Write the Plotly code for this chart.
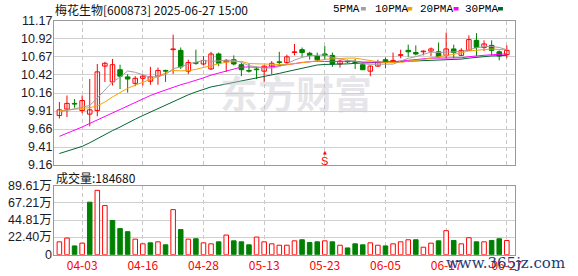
import plotly.graph_objects as go

W, H = 578, 276

# ---------------- data ----------------
dates = ["03-31", "04-01", "04-02", "04-03", "04-07", "04-08", "04-09", "04-10", "04-11", "04-14",
         "04-15", "04-16", "04-17", "04-18", "04-21", "04-22", "04-23", "04-24", "04-25", "04-28",
         "04-29", "04-30", "05-06", "05-07", "05-08", "05-09", "05-12", "05-13", "05-14", "05-15",
         "05-16", "05-19", "05-20", "05-21", "05-22", "05-23", "05-26", "05-27", "05-28", "05-29",
         "05-30", "06-03", "06-04", "06-05", "06-06", "06-09", "06-10", "06-11", "06-12", "06-13",
         "06-16", "06-17", "06-18", "06-19", "06-20", "06-23", "06-24", "06-25", "06-26", "06-27"]
opens = [9.85, 9.94, 10.02, 9.92, 9.87, 9.92, 10.54, 10.32, 10.49, 10.39,
         10.30, 10.37, 10.33, 10.40, 10.48, 10.77, 10.76, 10.47, 10.59, 10.57,
         10.50, 10.71, 10.60, 10.63, 10.56, 10.48, 10.50, 10.47, 10.54, 10.60,
         10.59, 10.73, 10.77, 10.72, 10.68, 10.71, 10.69, 10.57, 10.61, 10.60,
         10.56, 10.47, 10.54, 10.63, 10.60, 10.69, 10.76, 10.73, 10.74, 10.75,
         10.74, 10.69, 10.78, 10.69, 10.76, 10.90, 10.80, 10.83, 10.74, 10.70]
highs = [10.04, 10.13, 10.08, 10.13, 10.36, 10.57, 10.60, 10.64, 10.56, 10.43,
         10.40, 10.43, 10.53, 10.52, 10.49, 10.98, 10.80, 10.63, 10.77, 10.68,
         10.74, 10.73, 10.64, 10.69, 10.59, 10.57, 10.53, 10.55, 10.61, 10.74,
         10.70, 10.85, 10.80, 10.74, 10.73, 10.82, 10.73, 10.63, 10.63, 10.64,
         10.59, 10.55, 10.63, 10.66, 10.73, 10.77, 10.84, 10.83, 10.76, 10.80,
         10.87, 11.01, 10.84, 10.79, 10.97, 11.00, 10.90, 10.90, 10.76, 10.83]
lows = [9.81, 9.83, 9.96, 9.88, 9.70, 9.84, 10.32, 10.27, 10.22, 10.17,
        10.26, 10.27, 10.28, 10.28, 10.32, 10.43, 10.50, 10.43, 10.56, 10.55,
        10.49, 10.54, 10.46, 10.55, 10.40, 10.45, 10.36, 10.32, 10.43, 10.56,
        10.58, 10.69, 10.67, 10.63, 10.60, 10.63, 10.53, 10.52, 10.58, 10.50,
        10.49, 10.40, 10.53, 10.51, 10.59, 10.65, 10.67, 10.69, 10.69, 10.68,
        10.66, 10.65, 10.65, 10.68, 10.76, 10.68, 10.75, 10.69, 10.62, 10.65]
closes = [9.93, 10.02, 10.01, 10.06, 9.93, 10.46, 10.58, 10.56, 10.40, 10.36,
          10.37, 10.40, 10.39, 10.48, 10.47, 10.78, 10.53, 10.59, 10.58, 10.62,
          10.71, 10.58, 10.62, 10.57, 10.49, 10.47, 10.49, 10.54, 10.58, 10.59,
          10.67, 10.74, 10.73, 10.69, 10.63, 10.69, 10.57, 10.61, 10.60, 10.59,
          10.49, 10.54, 10.60, 10.59, 10.62, 10.70, 10.74, 10.71, 10.75, 10.78,
          10.67, 10.78, 10.73, 10.76, 10.91, 10.80, 10.85, 10.76, 10.68, 10.76]
volumes = [167000, 216000, 114000, 150000, 682000, 836000, 638000, 444000, 339000, 299000,
           202000, 141000, 154000, 167000, 128000, 585000, 326000, 202000, 207000, 154000,
           141000, 167000, 255000, 180000, 167000, 128000, 229000, 167000, 141000, 123000,
           123000, 180000, 194000, 158000, 167000, 180000, 167000, 123000, 88000, 141000,
           128000, 154000, 123000, 114000, 141000, 167000, 194000, 194000, 97000, 150000,
           180000, 312000, 185000, 141000, 220000, 167000, 167000, 185000, 207000, 184680]
prev_close = 9.85  # close of the session before the first bar

ma5_head = [9.90, 9.92, 9.94, 9.96]
ma10_head = [9.915, 9.925, 9.935, 9.945, 9.96, 9.985, 10.04, 10.11, 10.17]
ma20_head = [9.56, 9.60, 9.65, 9.69, 9.74, 9.79, 9.84, 9.89, 9.94, 9.99,
             10.04, 10.08, 10.13, 10.17, 10.21, 10.25, 10.28, 10.31, 10.34]
ma30_head = [9.32, 9.35, 9.38, 9.42, 9.47, 9.53, 9.59, 9.64, 9.69, 9.75,
             9.80, 9.85, 9.90, 9.95, 10.00, 10.05, 10.10, 10.14, 10.18, 10.22,
             10.25, 10.27, 10.29, 10.31, 10.33, 10.35, 10.37, 10.39, 10.42]

price_tick_labels = ["11.17", "10.92", "10.67", "10.42", "10.16", "9.91", "9.66", "9.41", "9.16"]
vol_tick_labels = ["89.61万", "67.21万", "44.81万", "22.40万", "0"]
vol_tick_values = [896100, 672100, 448100, 224000, 0]
date_labels = ["04-03", "04-16", "04-28", "05-13", "05-23", "06-05", "06-17", "06-27"]
title_text = "梅花生物[600873] 2025-06-27 15:00"
vol_title_text = "成交量:184680"
ma_names = ["5PMA", "10PMA", "20PMA", "30PMA"]
signal_date = "05-23"
signal_text = "S"
watermark_text = "东方财富"
site_text = "www.365jz.com"

# ---------------- styles ----------------
RED = "#ff0000"
GREEN = "#008000"
MA_COLORS = ["#a0a0a0", "#f5a300", "#ff00ff", "#006633"]
GRID = "#d0d0d0"
FRAME = "#999999"
CJK = "Noto Sans CJK SC"
NUM = "Liberation Sans"

N = len(closes)
idx = list(range(N))


def moving_avg(head, n):
    out = list(head)
    for i in range(len(head), N):
        out.append(sum(closes[i - n + 1:i + 1]) / n)
    return out


mas = [moving_avg(ma5_head, 5), moving_avg(ma10_head, 10),
       moving_avg(ma20_head, 20), moving_avg(ma30_head, 30)]

up = [c >= o for o, c in zip(opens, closes)]
prevs = [prev_close] + closes[:-1]
vol_up = [c >= p for c, p in zip(closes, prevs)]


def px_x(x):
    return x / W


def px_y(y):
    return 1 - y / H


X0, X1 = 55, 522
P_TOP, P_BOT = 21, 165
V_TOP, V_BOT = 185.7, 254.7

fig = go.Figure()

# wicks
for flag, col in ((True, RED), (False, GREEN)):
    xs, ys = [], []
    for i in idx:
        if up[i] == flag:
            xs += [i, i, None]
            ys += [lows[i], highs[i], None]
    fig.add_trace(go.Scatter(x=xs, y=ys, mode="lines", line=dict(color=col, width=1),
                             hoverinfo="skip", xaxis="x", yaxis="y"))

# bodies
body_base = [min(o, c) for o, c in zip(opens, closes)]
body_h = [max(abs(c - o), 0.004) for o, c in zip(opens, closes)]
fig.add_trace(go.Bar(x=idx, y=body_h, base=body_base, width=0.6,
                     marker=dict(color=["white" if u else GREEN for u in up],
                                 line=dict(color=[RED if u else GREEN for u in up], width=1)),
                     xaxis="x", yaxis="y"))

# moving averages (longest first so the short ones sit on top)
for vals, col in zip(mas[::-1], MA_COLORS[::-1]):
    fig.add_trace(go.Scatter(x=idx, y=vals, mode="lines", line=dict(color=col, width=1),
                             hoverinfo="skip", xaxis="x", yaxis="y"))

# volume
fig.add_trace(go.Bar(x=idx, y=volumes, width=0.6,
                     marker=dict(color=["white" if u else GREEN for u in vol_up],
                                 line=dict(color=[RED if u else GREEN for u in vol_up], width=1)),
                     xaxis="x2", yaxis="y2"))

tick_idx = [dates.index(d) for d in date_labels]
xrange = [-0.68, N + 0.05]

common_x = dict(range=xrange, tickvals=tick_idx, showgrid=True, gridcolor="#c8c8c8",
                griddash="4px,3px", gridwidth=1, showline=True, mirror=True, linecolor=FRAME,
                linewidth=1, zeroline=False, ticks="", fixedrange=True)

fig.update_layout(
    width=W, height=H, margin=dict(l=0, r=0, t=0, b=0), autosize=False,
    paper_bgcolor="white", plot_bgcolor="white", showlegend=False, barmode="overlay",
    xaxis=dict(domain=[px_x(X0), px_x(X1)], anchor="y", showticklabels=False, **common_x),
    yaxis=dict(domain=[px_y(P_BOT), px_y(P_TOP)], anchor="x",
               range=[float(price_tick_labels[-1]), float(price_tick_labels[0])],
               tickvals=[float(s) for s in price_tick_labels], showticklabels=False,
               showgrid=True, gridcolor=GRID, showline=True, mirror=True, linecolor=FRAME,
               zeroline=False, ticks="", fixedrange=True),
    xaxis2=dict(domain=[px_x(X0), px_x(X1)], anchor="y2", showticklabels=True,
                ticktext=date_labels, tickfont=dict(color=RED, size=12, family=CJK), **common_x),
    yaxis2=dict(domain=[px_y(V_BOT), px_y(V_TOP)], anchor="x2",
                range=[0, vol_tick_values[0]], tickvals=vol_tick_values, showticklabels=False,
                showgrid=True, gridcolor=GRID, showline=True, mirror=True, linecolor=FRAME,
                zeroline=False, ticks="", fixedrange=True),
)

ann = []
for s in price_tick_labels:
    ann.append(dict(x=px_x(X0), xref="paper", xanchor="right", y=float(s), yref="y",
                    yanchor="middle", text=s, showarrow=False,
                    font=dict(family=NUM, size=12.5, color="#1a1a2a")))
for s, v in zip(vol_tick_labels, vol_tick_values):
    ann.append(dict(x=px_x(X0), xref="paper", xanchor="right", y=v, yref="y2",
                    yanchor="middle", text=s, showarrow=False,
                    font=dict(family=NUM + ", " + CJK, size=12.5, color="#1a1a2a")))

ann.append(dict(x=px_x(54), xref="paper", xanchor="left", y=px_y(9), yref="paper",
                yanchor="middle", text=title_text, showarrow=False,
                font=dict(family=CJK, size=12, color="#111111")))
ann.append(dict(x=px_x(55), xref="paper", xanchor="left", y=px_y(177), yref="paper",
                yanchor="middle", text=vol_title_text, showarrow=False,
                font=dict(family=CJK, size=12, color="#111111")))

legend_x = [336, 378, 424, 470]
square_x = [366, 413, 460, 505]
shapes = []
for name, lx, sx, col in zip(ma_names, legend_x, square_x, MA_COLORS):
    ann.append(dict(x=px_x(lx), xref="paper", xanchor="left", y=px_y(8.5), yref="paper",
                    yanchor="middle", text=name, showarrow=False,
                    font=dict(family="Liberation Mono", size=11, color="#000000")))
    shapes.append(dict(type="rect", xref="paper", yref="paper", x0=px_x(sx), x1=px_x(sx + 5),
                       y0=px_y(10.5), y1=px_y(7), fillcolor=col, line=dict(width=0)))

# watermark
ann.append(dict(x=px_x(300), xref="paper", y=px_y(91), yref="paper", xanchor="center",
                yanchor="middle", text="<b>" + watermark_text + "</b>", showarrow=False,
                font=dict(family=CJK, size=38, color="rgba(200,200,208,0.45)")))

# signal marker
sig = dates.index(signal_date)
ann.append(dict(x=sig, xref="x", y=0.03, yref="y domain", yanchor="middle", text=signal_text,
                showarrow=False, font=dict(family=NUM, size=11, color=RED)))
ann.append(dict(x=sig, xref="x", y=0.09, yref="y domain", yanchor="middle", text="▲",
                showarrow=False, font=dict(family="DejaVu Sans", size=5, color=RED)))

ann.append(dict(x=px_x(513), xref="paper", y=px_y(263), yref="paper", xanchor="center",
                yanchor="middle", text=site_text, showarrow=False,
                font=dict(family="DejaVu Serif", size=15, color="#1d3c74")))

fig.update_layout(annotations=ann, shapes=shapes)
fig.write_html("out.html")
